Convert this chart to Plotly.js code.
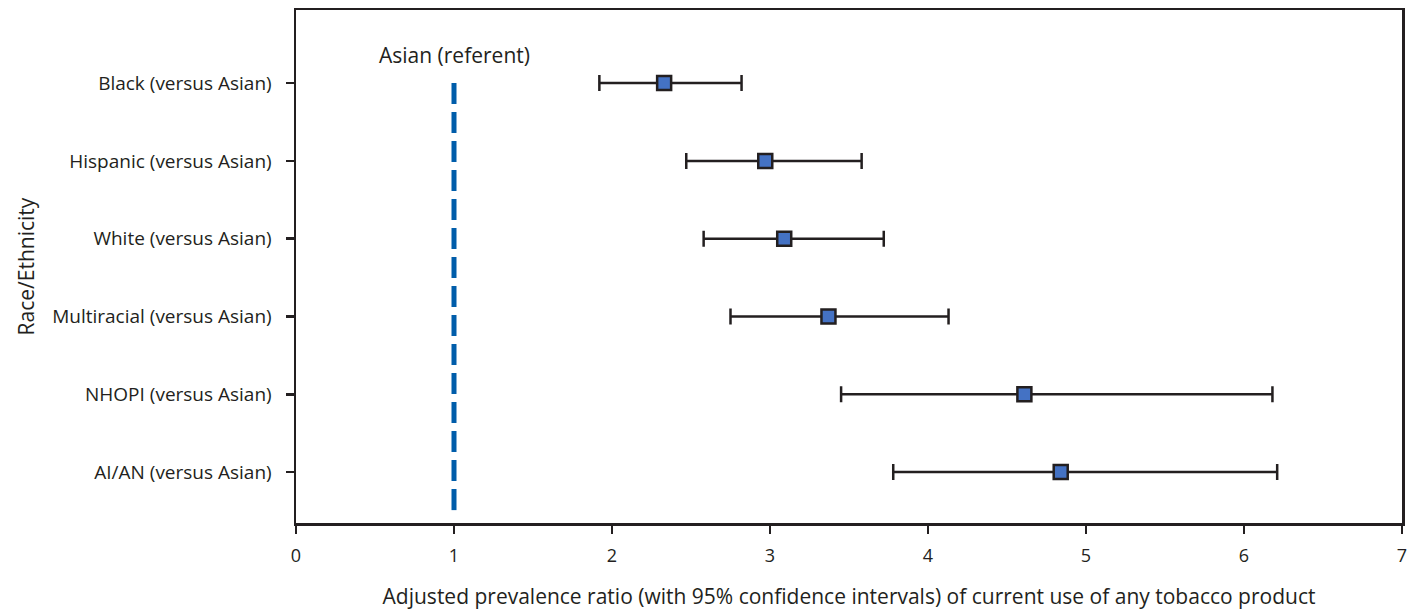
<!DOCTYPE html>
<html>
<head>
<meta charset="utf-8">
<script src="https://cdn.plot.ly/plotly-3.0.1.min.js"></script>
<style>html,body{margin:0;padding:0;background:#fff;}#chart{width:1414px;height:610px;}</style>
</head>
<body>
<div id="chart"></div>
<script>
// Data (top row first)
const categories = ["Black (versus Asian)", "Hispanic (versus Asian)", "White (versus Asian)", "Multiracial (versus Asian)", "NHOPI (versus Asian)", "AI/AN (versus Asian)"];
const ratio = [2.33, 2.97, 3.09, 3.37, 4.61, 4.84];
const ciLow = [1.92, 2.47, 2.58, 2.75, 3.45, 3.78];
const ciHigh = [2.82, 3.58, 3.72, 4.13, 6.18, 6.21];
const referentValue = 1;
const referentLabel = "Asian (referent)";

const n = categories.length;
const ypos = categories.map((c, i) => n - 1 - i);
const errPlus = ratio.map((v, i) => ciHigh[i] - v);
const errMinus = ratio.map((v, i) => v - ciLow[i]);

const fontFam = "'Open Sans', 'Liberation Sans', sans-serif";
const dark = "#231f20";

const trace = {
  type: "scatter",
  mode: "markers",
  x: ratio,
  y: ypos,
  marker: {symbol: "square", size: 14, color: "#4472c4", line: {color: dark, width: 2.5}},
  error_x: {type: "data", symmetric: false, array: errPlus, arrayminus: errMinus, color: dark, thickness: 2.5, width: 8},
  hoverinfo: "skip",
  showlegend: false
};

const layout = {
  width: 1414, height: 610,
  margin: {l: 296, r: 12, t: 10, b: 87},
  paper_bgcolor: "#fff", plot_bgcolor: "#fff",
  font: {family: fontFam, color: dark, size: 19},
  xaxis: {
    range: [0, 7], tickvals: [0,1,2,3,4,5,6,7], ticks: "outside", ticklen: 8, tickwidth: 2.5, tickcolor: dark,
    showgrid: false, zeroline: false, showline: true, linecolor: dark, linewidth: 2.5, mirror: true,
    tickfont: {size: 18, family: fontFam, color: dark}, ticklabelstandoff: 7,
    title: {text: "Adjusted prevalence ratio (with 95% confidence intervals) of current use of any tobacco product", font: {size: 21, family: fontFam, color: dark}, standoff: 24}
  },
  yaxis: {
    range: [-0.655, 5.94], tickvals: ypos, ticktext: categories, ticks: "outside", ticklen: 8, tickwidth: 2.5, tickcolor: dark,
    showgrid: false, zeroline: false, showline: true, linecolor: dark, linewidth: 2.5, mirror: true,
    tickfont: {size: 19, family: fontFam, color: dark}, ticklabelstandoff: 10,
    title: {text: "Race/Ethnicity", font: {size: 21, family: fontFam, color: dark}, standoff: 12}
  },
  shapes: [{
    type: "line", xref: "x", yref: "y", x0: referentValue, x1: referentValue, y0: n - 1, y1: -0.55,
    line: {color: "#005daa", width: 5, dash: "21px,8px"}
  }],
  annotations: [{
    xref: "x", yref: "y", x: referentValue, y: n - 1 + 0.36, text: referentLabel, showarrow: false,
    font: {size: 21, family: fontFam, color: dark}, xanchor: "center", yanchor: "middle"
  }]
};

Plotly.newPlot("chart", [trace], layout, {displayModeBar: false, staticPlot: true});
</script>
</body>
</html>
